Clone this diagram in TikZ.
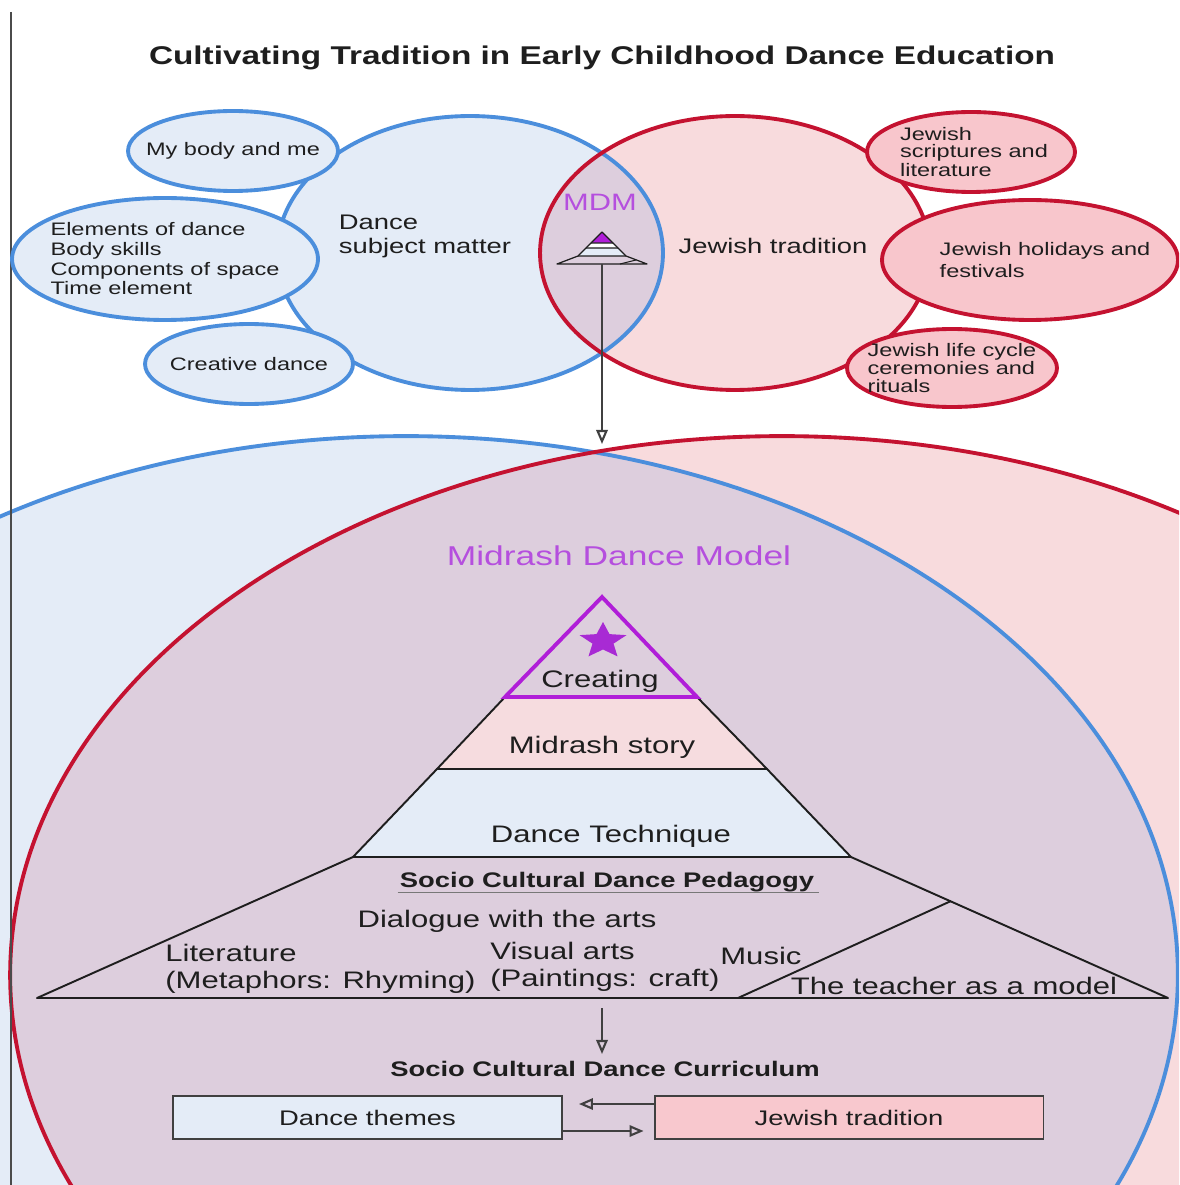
\documentclass[tikz,border=0pt]{standalone}
\usepackage{fontspec}
\setmainfont{Liberation Sans}
\usetikzlibrary{arrows.meta}
\usetikzlibrary{shapes.geometric}
\usetikzlibrary{positioning}
\definecolor{ink}{HTML}{1E1E1E}
\definecolor{bline}{HTML}{4B8EDC}
\definecolor{rline}{HTML}{C41230}
\definecolor{bfill}{HTML}{E4ECF7}
\definecolor{rfill}{HTML}{F8DBDD}
\definecolor{mfill}{HTML}{DDCEDD}
\definecolor{rbub}{HTML}{F8C6CC}
\definecolor{rbox}{HTML}{F8C8CE}
\definecolor{pinkl}{HTML}{F6DCDF}
\definecolor{purp}{HTML}{B01ED8}
\definecolor{starc}{HTML}{A82AD4}
\definecolor{mdmc}{HTML}{B54FDE}
\newcommand{\stretchx}[1]{\scalebox{1.3}[1]{#1}}
\begin{document}
\begin{tikzpicture}[x=0.02cm,y=-0.02cm]
\tikzstyle{bubble}=[ellipse,draw,line width=2.2pt,inner sep=0pt]
\tikzstyle{bluebub}=[bubble,draw=bline,fill=bfill]
\tikzstyle{redbub}=[bubble,draw=rline,fill=rbub]
\tikzstyle{txt}=[inner sep=0pt,text=ink]
\tikzstyle{small}=[txt,font=\fontsize{10.3}{11.2}\selectfont]
\tikzstyle{mid}=[txt,font=\fontsize{12}{13.6}\selectfont]
\tikzstyle{big}=[txt,font=\fontsize{13.6}{15.3}\selectfont]
\tikzstyle{head}=[txt,font=\bfseries\fontsize{12}{13.6}\selectfont]
\tikzstyle{tbox}=[rectangle,draw=ink!85,line width=1.1pt,minimum width=7.78cm,minimum height=0.86cm,inner sep=0pt,text=ink,font=\fontsize{12}{13.6}\selectfont]
\tikzstyle{arr}=[draw=ink!85,line width=1.2pt,-{Triangle[open,length=8pt,width=6.5pt]}]
\tikzstyle{pyr}=[draw=ink,line width=1.1pt,line join=round]

\clip (0,0) rectangle (1179,1185);
\fill[white] (0,0) rectangle (1179,1185);

% lower circles
\fill[bfill] (406,975) ellipse [x radius=15.44cm,y radius=10.78cm];
\fill[rfill] (782,975) ellipse [x radius=15.44cm,y radius=10.78cm];
\begin{scope}
\clip (406,975) ellipse [x radius=15.44cm,y radius=10.78cm];
\fill[mfill] (782,975) ellipse [x radius=15.44cm,y radius=10.78cm];
\end{scope}
\draw[bline,line width=2.2pt] (406,975) ellipse [x radius=15.44cm,y radius=10.78cm];
\draw[rline,line width=2.2pt] (782,975) ellipse [x radius=15.44cm,y radius=10.78cm];

% upper circles
\fill[bfill] (470,253) ellipse [x radius=3.86cm,y radius=2.74cm];
\fill[rfill] (735,253) ellipse [x radius=3.9cm,y radius=2.74cm];
\begin{scope}
\clip (470,253) ellipse [x radius=3.86cm,y radius=2.74cm];
\fill[mfill] (735,253) ellipse [x radius=3.9cm,y radius=2.74cm];
\end{scope}
\draw[bline,line width=2.2pt] (470,253) ellipse [x radius=3.86cm,y radius=2.74cm];
\draw[rline,line width=2.2pt] (735,253) ellipse [x radius=3.9cm,y radius=2.74cm];

\draw[ink!80,line width=1.1pt] (11,12) -- (11,1185);

\node[txt,font=\bfseries\fontsize{14.6}{16}\selectfont] (title) at (602,58) {\stretchx{Cultivating Tradition in Early Childhood Dance Education}};

% dance bubbles
\node[bluebub,minimum width=4.2cm,minimum height=1.6cm,
  label={[small]center:{\stretchx{My body and me}}}] (body) at (233,151) {};
\node[bluebub,minimum width=6.12cm,minimum height=2.44cm,
  label={[small,align=left]center:{\stretchx{Elements of dance}\\\stretchx{Body skills}\\\stretchx{Components of space}\\\stretchx{Time element}}}] (elem) at (165,259) {};
\node[bluebub,minimum width=4.16cm,minimum height=1.6cm,
  label={[small]center:{\stretchx{Creative dance}}}] (creat) at (249,364) {};

% tradition bubbles
\node[redbub,minimum width=4.16cm,minimum height=1.6cm,
  label={[small,align=left,xshift=0.06cm,font=\fontsize{10.3}{9.6}\selectfont]center:{\stretchx{Jewish}\\\stretchx{scriptures and}\\\stretchx{literature}}}] (scrip) at (971,152) {};
\node[redbub,minimum width=5.92cm,minimum height=2.4cm,
  label={[small,align=left,xshift=0.3cm,font=\fontsize{10.3}{12.5}\selectfont]center:{\stretchx{Jewish holidays and}\\\stretchx{festivals}}}] (holi) at (1030,260) {};
\node[redbub,minimum width=4.2cm,minimum height=1.56cm,
  label={[small,align=left,font=\fontsize{10.3}{10.2}\selectfont]center:{\stretchx{Jewish life cycle}\\\stretchx{ceremonies and}\\\stretchx{rituals}}}] (life) at (952,368) {};

\node[mid,align=left] (dsm) at (425,236) {\stretchx{Dance}\\\stretchx{subject matter}};
\node[mid] (jtr) at (773,246) {\stretchx{Jewish tradition}};
\node[txt,text=mdmc,font=\fontsize{13.5}{15}\selectfont] (mdm) at (600,202) {\stretchx{MDM}};

% small model
\fill[purp] (602,232) -- (613,243) -- (591,243) -- cycle;
\fill[white] (591,243) -- (613,243) -- (618,248) -- (586,248) -- cycle;
\fill[bfill] (586,248) -- (618,248) -- (626,256) -- (578,256) -- cycle;
\draw[ink,line width=0.7pt,line join=round] (602,232) -- (578,256) -- (557,264) -- (647,264) -- (626,256) -- cycle;
\draw[ink,line width=0.6pt] (591,243) -- (613,243) (586,248) -- (618,248) (578,256) -- (626,256) (620,264) -- (636,260);

\coordinate (mdmfoot) at (602,264);
\coordinate (lowtop) at (602,444);
\draw[arr] (mdmfoot) -- (lowtop);

\node[txt,text=mdmc,font=\fontsize{15.5}{17}\selectfont] (model) at (619,556) {\stretchx{Midrash Dance Model}};

% pyramid
\filldraw[pyr,fill=pinkl] (505,697) -- (697,697) -- (767,769) -- (437,769) -- cycle;
\filldraw[pyr,fill=bfill] (437,769) -- (767,769) -- (851,857) -- (353,857) -- cycle;
\draw[pyr] (353,857) -- (37,998) -- (1168,998) -- (851,857);
\draw[pyr] (738,998) -- (951,901);
\draw[purp,line width=2.2pt,line join=miter] (602,597) -- (697,697) -- (505,697) -- cycle;
\begin{scope}[shift={(603,641)},xscale=1.3]
\fill[starc] (-90:19) -- (-54:8.5) -- (-18:19) -- (18:8.5) -- (54:19) -- (90:8.5) -- (126:19) -- (162:8.5) -- (198:19) -- (234:8.5) -- cycle;
\end{scope}

\node[big] (creating) at (600,681) {\stretchx{Creating}};
\node[big] (story) at (602,747) {\stretchx{Midrash story}};
\node[big] (tech) at (611,836) {\stretchx{Dance Technique}};
\node[head] (ped) at (607,882) {\stretchx{Socio Cultural Dance Pedagogy}};
\draw[ink!60,line width=0.6pt] ([xshift=-0.04cm]ped.south west) -- ([xshift=0.1cm]ped.south east);
\node[big] (dia) at (507,921) {\stretchx{Dialogue with the arts}};
\node[big,anchor=west,align=left] (lit) at (165,969) {\stretchx{Literature}\\\stretchx{(Metaphors: Rhyming)}};
\node[big,anchor=west,align=left] (vis) at (490,967) {\stretchx{Visual arts}\\\stretchx{(Paintings: craft)}};
\node[big,anchor=west] (mus) at (720,956) {\stretchx{Music}};
\node[big] (teach) at (954,986) {\stretchx{The teacher as a model}};

\coordinate (pedfoot) at (602,1008);
\coordinate (curtop) at (602,1054);
\draw[arr] (pedfoot) -- (curtop);
\node[head] (cur) at (605,1069) {\stretchx{Socio Cultural Dance Curriculum}};

\node[tbox,fill=bfill] (themes) at (367.5,1117.5) {\stretchx{Dance themes}};
\node[tbox,fill=rbox] (jbox) at (849,1117.5) {\stretchx{Jewish tradition}};
\draw[arr,shorten >=0.32cm] ([yshift=0.27cm]jbox.west) -- ([yshift=0.27cm]themes.east);
\draw[arr,shorten >=0.2cm] ([yshift=-0.27cm]themes.east) -- ([yshift=-0.27cm]jbox.west);
\end{tikzpicture}
\end{document}
